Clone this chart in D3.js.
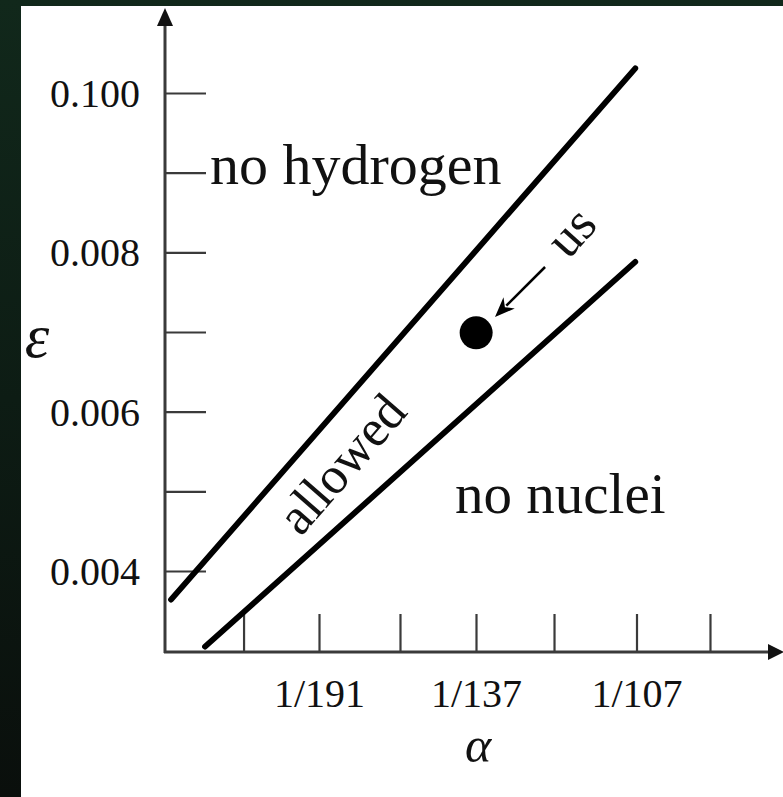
<!DOCTYPE html>
<html>
<head>
<meta charset="utf-8">
<script src="https://cdn.jsdelivr.net/npm/d3@7"></script>
<style>
html,body{margin:0;padding:0;background:#0c1410;}
svg{display:block;}
text{font-family:"Liberation Serif","Times New Roman",serif;fill:#111;}
</style>
</head>
<body>
<svg id="chart" width="783" height="797"></svg>
<script>
// ---- data ----
const xTickValues = [0.004259, 1/191, 0.006284, 0.007268, 0.008278, 1/107, 0.010297];
const xTickLabels = ["", "1/191", "", "1/137", "", "1/107", ""];
const yTickValues = [0.004, 0.005, 0.006, 0.007, 0.008, 0.009, 0.010];
const yTickLabels = ["0.004", "", "0.006", "", "0.008", "", "0.100"];
const upperBound = [[0.00332, 0.00364], [0.00933, 0.01031]];   // "no hydrogen" limit
const lowerBound = [[0.00376, 0.00305], [0.00933, 0.00788]];   // "no nuclei" limit
const usPoint = [0.00727, 0.00699];
const regionLabels = ["no hydrogen", "no nuclei", "allowed", "us"];
const axisLabels = ["\u03B1", "\u03B5"];

// ---- scales ----
const x = d3.scaleLinear().domain([1/191, 1/107]).range([319, 636.5]);
const y = d3.scaleLinear().domain([0.004, 0.010]).range([571, 93]);

const svg = d3.select("#chart");

// background
const defs = svg.append("defs");
const g1 = defs.append("linearGradient").attr("id","bg").attr("x1","0").attr("y1","0").attr("x2","0").attr("y2","1");
g1.append("stop").attr("offset","0").attr("stop-color","#11281b");
g1.append("stop").attr("offset","0.5").attr("stop-color","#0d1c14");
g1.append("stop").attr("offset","1").attr("stop-color","#0a0f0c");
svg.append("rect").attr("width",783).attr("height",797).attr("fill","url(#bg)");
svg.append("rect").attr("x",21).attr("y",6).attr("width",762).attr("height",791).attr("fill","#ffffff");

const x0 = 165, y0 = 652;
const axisColor = "#3a3a3a";

// y axis
const yAxis = svg.append("g").attr("transform",`translate(${x0},0)`)
  .call(d3.axisLeft(y).tickValues(yTickValues).tickSizeInner(-41).tickSizeOuter(0).tickPadding(25)
        .tickFormat((d,i)=>yTickLabels[i]));
yAxis.select(".domain").remove();
yAxis.selectAll(".tick line").attr("stroke",axisColor).attr("stroke-width",2.2);
yAxis.selectAll(".tick text").attr("font-size",40).attr("fill","#222")
  .attr("font-family","'Liberation Serif',serif").attr("dy","0.34em");

// x axis
const xAxis = svg.append("g").attr("transform",`translate(0,${y0})`)
  .call(d3.axisBottom(x).tickValues(xTickValues).tickSizeInner(-38).tickSizeOuter(0).tickPadding(27)
        .tickFormat((d,i)=>xTickLabels[i]));
xAxis.select(".domain").remove();
xAxis.selectAll(".tick line").attr("stroke",axisColor).attr("stroke-width",2.2);
xAxis.selectAll(".tick text").attr("font-size",40).attr("fill","#222")
  .attr("font-family","'Liberation Serif',serif").attr("dy","0.71em");

// axis lines with arrows
svg.append("line").attr("x1",x0).attr("y1",y0+1).attr("x2",x0).attr("y2",22)
  .attr("stroke",axisColor).attr("stroke-width",3);
svg.append("path").attr("d",`M${x0},8 L${x0-8},26 L${x0+8},26 Z`).attr("fill","#111");
svg.append("line").attr("x1",x0-1).attr("y1",y0).attr("x2",772).attr("y2",y0)
  .attr("stroke",axisColor).attr("stroke-width",3);
svg.append("path").attr("d",`M784,${y0} L768,${y0-8} L768,${y0+8} Z`).attr("fill","#111");

// boundary lines
const line = d3.line().x(d=>x(d[0])).y(d=>y(d[1]));
svg.selectAll("path.bound").data([upperBound, lowerBound]).enter().append("path")
  .attr("class","bound").attr("d",line).attr("fill","none")
  .attr("stroke","#000").attr("stroke-width",5.8).attr("stroke-linecap","round");

// us point
svg.append("circle").attr("cx",x(usPoint[0])).attr("cy",y(usPoint[1])).attr("r",16.5).attr("fill","#000");

// arrow to us
const aFrom = [0.008162, 0.007816], aTo = [0.007514, 0.007188];
const ax1 = x(aFrom[0]), ay1 = y(aFrom[1]), ax2 = x(aTo[0]), ay2 = y(aTo[1]);
const ang = Math.atan2(ay2-ay1, ax2-ax1);
const hl = 20, hw = 8;
const bx = ax2 - hl*Math.cos(ang), by = ay2 - hl*Math.sin(ang);
svg.append("line").attr("x1",ax1).attr("y1",ay1).attr("x2",bx+4*Math.cos(ang)).attr("y2",by+4*Math.sin(ang))
  .attr("stroke","#000").attr("stroke-width",2.5);
svg.append("path").attr("d",
  `M${ax2},${ay2} L${bx - hw*Math.sin(ang)},${by + hw*Math.cos(ang)} L${bx + 6*Math.cos(ang)},${by + 6*Math.sin(ang)} L${bx + hw*Math.sin(ang)},${by - hw*Math.cos(ang)} Z`)
  .attr("fill","#000");

// region labels
svg.append("text").attr("x",x(0.003825)).attr("y",y(0.008858)).attr("font-size",58).text(regionLabels[0]);
svg.append("text").attr("x",x(0.006997)).attr("y",y(0.004728)).attr("font-size",57).text(regionLabels[1]);
svg.append("text").attr("transform",`translate(${x(0.005547)},${y(0.005330)}) rotate(-49)`)
  .attr("text-anchor","middle").attr("dy","0.3em").attr("font-size",52).text(regionLabels[2]);
svg.append("text").attr("transform",`translate(${x(0.008511)},${y(0.008243)}) rotate(-48)`)
  .attr("text-anchor","middle").attr("dy","0.3em").attr("font-size",52).text(regionLabels[3]);

// axis titles
svg.append("text").attr("x",478).attr("y",762).attr("text-anchor","middle")
  .attr("font-size",50).attr("font-style","italic").text(axisLabels[0]);
svg.append("text").attr("x",37).attr("y",357).attr("text-anchor","middle")
  .attr("font-size",62).attr("font-style","italic").text(axisLabels[1]);
</script>
</body>
</html>
